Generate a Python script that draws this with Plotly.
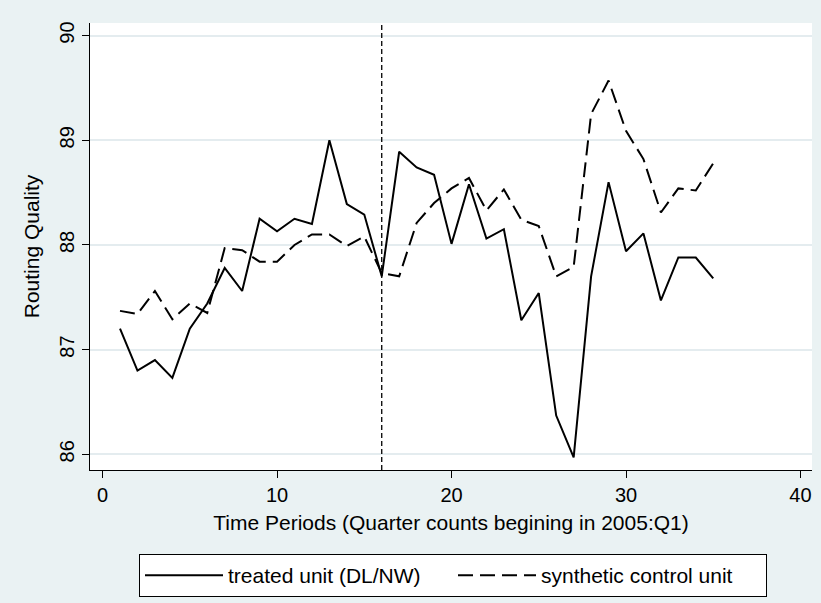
import plotly.graph_objects as go

periods = list(range(1, 36))
treated = [87.20, 86.80, 86.90, 86.73, 87.20, 87.44, 87.78, 87.56, 88.25, 88.13,
           88.25, 88.20, 89.00, 88.39, 88.29, 87.70, 88.89, 88.74, 88.67, 88.01,
           88.58, 88.06, 88.15, 87.28, 87.54, 86.37, 85.97, 87.70, 88.60, 87.94,
           88.11, 87.47, 87.88, 87.88, 87.68]
synthetic = [87.37, 87.34, 87.56, 87.29, 87.44, 87.35, 87.97, 87.95, 87.84, 87.84,
             88.00, 88.10, 88.10, 87.99, 88.08, 87.73, 87.70, 88.21, 88.40, 88.54,
             88.64, 88.33, 88.53, 88.24, 88.18, 87.70, 87.79, 89.25, 89.57, 89.09,
             88.82, 88.31, 88.54, 88.52, 88.78]
x_ticks = [0, 10, 20, 30, 40]
y_ticks = [86, 87, 88, 89, 90]
treatment_period = 16

BG = "#EAF2F3"
GRID = "#E4ECEF"
FONT = "Liberation Sans, Arial, sans-serif"

fig = go.Figure()
fig.add_trace(go.Scatter(x=periods, y=treated, mode="lines", name="treated unit (DL/NW)",
                         line=dict(color="black", width=2)))
fig.add_trace(go.Scatter(x=periods, y=synthetic, mode="lines", name="synthetic control unit",
                         line=dict(color="black", width=2, dash="15px,7px")))

fig.add_shape(type="line", x0=treatment_period, x1=treatment_period, xref="x",
              y0=0, y1=1, yref="paper", line=dict(color="black", width=1.3, dash="5px,3px"))

fig.update_layout(
    width=821, height=603,
    paper_bgcolor=BG, plot_bgcolor="white",
    margin=dict(l=90, r=9, t=23, b=133, autoexpand=False),
    font=dict(family=FONT, color="black", size=20),
    showlegend=True,
    legend=dict(orientation="h", x=(139 - 90) / 722, xanchor="left",
                y=(470 - 554) / 447, yanchor="top",
                bgcolor="white", bordercolor="black", borderwidth=1,
                font=dict(size=21, family=FONT), entrywidth=220, itemwidth=78,
                traceorder="normal"),
    xaxis=dict(range=[-0.72, 40.66], tickvals=x_ticks, ticktext=[str(v) for v in x_ticks],
               showgrid=False, zeroline=False, showline=True, linecolor="black", linewidth=1,
               ticks="outside", ticklen=7, tickcolor="black", tickfont=dict(size=20),
               title=dict(text="Time Periods (Quarter counts begining in 2005:Q1)",
                          font=dict(size=21), standoff=10)),
    yaxis=dict(range=[85.85, 90.12], tickvals=y_ticks, ticktext=[str(v) for v in y_ticks],
               showgrid=True, gridcolor=GRID, gridwidth=2, zeroline=False,
               showline=True, linecolor="black", linewidth=1,
               ticks="outside", ticklen=7, tickcolor="black", tickangle=-90,
               tickfont=dict(size=20),
               title=dict(text="Routing Quality", font=dict(size=21), standoff=10)),
)

fig.write_html("out.html", config={"displayModeBar": False},
               post_script="document.body.style.margin='0';document.body.style.background='%s';" % BG)
